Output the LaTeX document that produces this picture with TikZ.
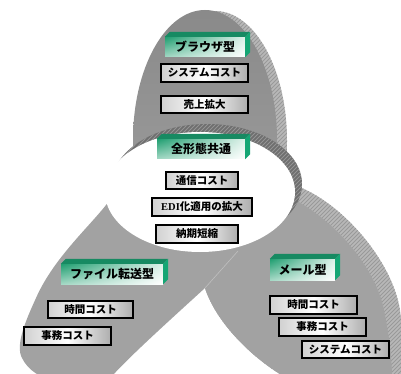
\documentclass[tikz,border=0pt]{standalone}
\usepackage{fontspec}
\setmainfont{Liberation Serif}
\newfontfamily\jp{Noto Sans CJK JP}
\usetikzlibrary{shadings}
\definecolor{petal}{rgb}{0.635,0.635,0.635}
\definecolor{petaltop}{rgb}{0.54,0.54,0.54}
\definecolor{rimlight}{rgb}{0.72,0.72,0.72}
\definecolor{rimhatch}{rgb}{0.60,0.60,0.60}
\definecolor{rimdark}{rgb}{0.43,0.43,0.43}
\definecolor{rimdarkhatch}{rgb}{0.58,0.58,0.58}
\definecolor{hgreen}{HTML}{1F9E70}
\definecolor{hgreenpale}{HTML}{DDF1E9}
\definecolor{htop}{HTML}{178A62}
\definecolor{hside}{HTML}{14A674}
\tikzset{
  hatchline/.style={line width=1pt},
  petalfill/.style={fill=petal, draw=none},
  cbox/.style={draw=black, line width=1.1pt, left color=black!18, right color=black!32,
    middle color=white, inner sep=0pt, font=\jp\bfseries\fontsize{10.5}{12}\selectfont},
  hdr/.style={upper left=hgreen, upper right=hgreenpale, lower left=hgreenpale!70!hgreen,
    lower right=white, inner sep=0pt, font=\jp\bfseries\fontsize{12}{14}\selectfont},
  hdrtop/.style={fill=htop},
  hdrside/.style={fill=hside},
}
\newcommand{\hdrbox}[1]{%
  \fill[hdrtop] (#1.north west) -- (#1.north east) -- ([shift={(5,-5)}]#1.north east) -- ([shift={(5,-5)}]#1.north west) -- cycle;
  \fill[hdrside] (#1.north east) -- ([shift={(5,-5)}]#1.north east) -- ([shift={(5,-5)}]#1.south east) -- (#1.south east) -- cycle;
}
\newcommand{\hatchall}[1]{%
  \foreach \i in {-420,-416,...,420}{\draw[#1, hatchline] (\i,420) -- ++(420,-420);}%
}
\newcommand{\toprimpath}{(215,141) ellipse [x radius=72, y radius=130]}
\newcommand{\rightrimpath}{(180,240) .. controls (195,262) and (201,278) .. (205,288)
  .. controls (215,320) and (250,358) .. (290,380)
  -- (406,380) .. controls (405,360) and (404,340) .. (400,310)
  .. controls (392,260) and (342,203) .. (297,186) -- (240,185) -- cycle}
\newcommand{\discrimpath}{(207,184) ellipse [x radius=95, y radius=60]}
\begin{document}
\begin{tikzpicture}[x=1pt,y=-1pt]
\useasboundingbox (0,0) rectangle (401,374);
\begin{scope}
\clip (0,0) rectangle (401,374);
% top petal: rim, then face
\fill[rimlight] \toprimpath;
\begin{scope}\clip \toprimpath; \hatchall{rimhatch}\end{scope}
\shade[top color=petaltop, bottom color=petal] (205,140) ellipse [x radius=72, y radius=130];
% right petal: rim, then face
\fill[rimlight] \rightrimpath;
\begin{scope}\clip \rightrimpath; \hatchall{rimhatch}\end{scope}
\path[petalfill] (180,240) .. controls (195,262) and (201,278) .. (205,288)
  .. controls (215,320) and (250,358) .. (290,380)
  -- (392,380) .. controls (392,360) and (390,340) .. (384,310)
  .. controls (375,265) and (330,215) .. (285,195) -- (240,190) -- cycle;
% left petal
\path[petalfill] (140,185) -- (112,197) .. controls (95,222) and (55,255) .. (36,298)
  .. controls (26,320) and (15,345) .. (22,358)
  .. controls (28,370) and (40,379) .. (60,381) -- (108,381)
  .. controls (120,365) and (170,320) .. (205,288) -- (240,235) -- cycle;
\draw[black!25, line width=0.6pt] (205,288) -- (238,251);
% central disc: rim, then face
\fill[rimdark] \discrimpath;
\begin{scope}\clip \discrimpath; \hatchall{rimdarkhatch}\end{scope}
\fill[white] (200,192) ellipse [x radius=95, y radius=60];
\end{scope}
% top group
\node[hdr, minimum width=80pt, minimum height=20pt] (h1) at (205,47) {ブラウザ型};
\hdrbox{h1}
\node[cbox, minimum width=87pt, minimum height=18pt] (t1) at (204.5,73) {システムコスト};
\node[cbox, minimum width=87pt, minimum height=17pt] (t2) at (204.5,104.5) {売上拡大};
% centre group
\node[hdr, minimum width=88pt, minimum height=20pt] (h2) at (201,149) {全形態共通};
\hdrbox{h2}
\node[cbox, minimum width=72pt, minimum height=17pt] (c1) at (202,180.5) {通信コスト};
\node[cbox, minimum width=100pt, minimum height=18pt] (c2) at (202,207) {{\rmfamily EDI}化適用の拡大};
\node[cbox, minimum width=82pt, minimum height=18pt] (c3) at (197,234) {納期短縮};
% left group
\node[hdr, minimum width=102pt, minimum height=20pt] (h3) at (112,274) {ファイル転送型};
\hdrbox{h3}
\node[cbox, minimum width=85pt, minimum height=17pt] (l1) at (90.5,309.5) {時間コスト};
\node[cbox, minimum width=87pt, minimum height=18pt] (l2) at (67.5,336) {事務コスト};
% right group
\node[hdr, minimum width=65pt, minimum height=21pt] (h4) at (302.5,269.5) {メール型};
\hdrbox{h4}
\node[cbox, minimum width=87pt, minimum height=18pt] (r1) at (313.5,305) {時間コスト};
\node[cbox, minimum width=87pt, minimum height=18pt] (r2) at (322.5,327) {事務コスト};
\node[cbox, minimum width=87pt, minimum height=17pt] (r3) at (345.5,349.5) {システムコスト};
\end{tikzpicture}
\end{document}
